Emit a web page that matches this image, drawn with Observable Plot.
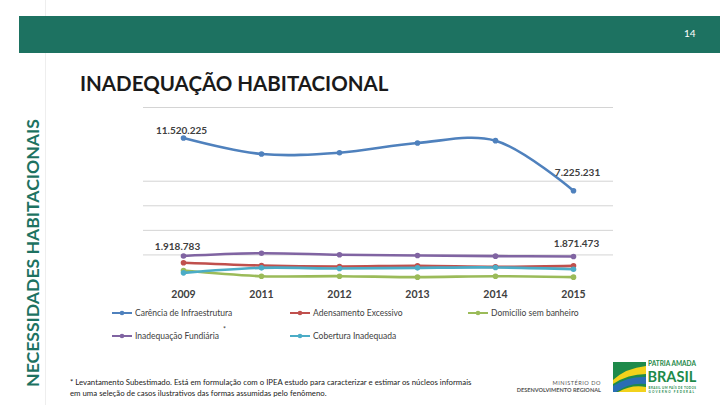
<!DOCTYPE html>
<html>
<head>
<meta charset="utf-8">
<script src="https://cdn.jsdelivr.net/npm/d3@7"></script>
<script src="https://cdn.jsdelivr.net/npm/@observablehq/plot@0.6"></script>
<style>
  html, body { margin:0; padding:0; background:#fff; }
  #page { position:relative; width:720px; height:405px; overflow:hidden; font-family:Lato, "Open Sans", sans-serif; }
  .abs { position:absolute; }
  #band { left:19px; top:16px; width:701px; height:37px; background:#1d7261; }
  #pnum { left:684px; top:27px; font-size:10px; color:#fff; }
  #vline { left:45px; top:0; width:1px; height:405px; background:#eeeeee; }
  #side { left:32px; top:253px; transform:translate(-50%,-50%) rotate(-90deg); white-space:nowrap; font-weight:700; font-size:17.6px; color:#1d7261; }
  #title { left:80px; top:71px; font-size:20.5px; font-weight:700; color:#1a1a1a; white-space:nowrap; }
  #chart { left:100px; top:100px; }
  .leg { position:absolute; display:flex; align-items:center; font-size:8.5px; color:#404040; white-space:nowrap; }
  .leg svg { margin-right:3px; }
  #foot { left:70px; top:377px; font-size:7.8px; line-height:11px; color:#222; white-space:nowrap; }
  #min { left:515px; top:380px; font-size:5.6px; line-height:6.5px; color:#555; text-align:right; width:86px; }
</style>
</head>
<body>
<div id="page">
  <div id="vline" class="abs"></div>
  <div id="band" class="abs"></div>
  <div id="pnum" class="abs">14</div>
  <div id="side" class="abs">NECESSIDADES HABITACIONAIS</div>
  <div id="title" class="abs">INADEQUAÇÃO HABITACIONAL</div>
  <div id="chart" class="abs"></div>
  <div id="legend"></div>
  <div id="foot" class="abs">* Levantamento Subestimado. Está em formulação com o IPEA estudo para caracterizar e estimar os núcleos informais<br>em uma seleção de casos ilustrativos das formas assumidas pelo fenômeno.</div>
  <div id="min" class="abs"><span style="letter-spacing:0.5px">MINISTÉRIO DO</span><br><b>DESENVOLVIMENTO REGIONAL</b></div>
  <svg class="abs" style="left:612px;top:360px" width="100" height="34" viewBox="0 0 100 34">
    <rect x="1" y="2" width="33" height="30" fill="#1e8a4a"/>
    <path d="M1 20 Q14 8 34 6 L34 14 Q16 14 1 24 Z" fill="#f2d21c"/>
    <path d="M1 26 Q16 16 34 17 L34 24 Q18 22 4 32 L1 32 Z" fill="#2a6db5"/>
    <path d="M6 32 Q20 24 34 27 L34 32 Z" fill="#f2d21c"/>
    <text x="36" y="6.3" font-family="Lato" font-weight="700" font-size="6.5" fill="#1e8a4a">PÁTRIA AMADA</text>
    <text x="35.5" y="22" font-family="Lato" font-weight="700" font-size="14.5" fill="#1e8a4a">BRASIL</text>
    <text x="36.5" y="28.6" font-family="Lato" font-weight="700" font-size="3" fill="#1e8a4a" letter-spacing="0.4">BRASIL UM PAÍS DE TODOS</text>
    <text x="36.5" y="32.8" font-family="Lato" font-weight="700" font-size="3" fill="#1e8a4a" letter-spacing="1.2">GOVERNO FEDERAL</text>
  </svg>
</div>
<script>
const years = ["2009", "2011", "2012", "2013", "2014", "2015"];
const seriesNames = ["Carência de Infraestrutura", "Adensamento Excessivo", "Domicílio sem banheiro", "Inadequação Fundiária", "Cobertura Inadequada"];
const carencia    = [11520225, 10220000, 10320000, 11110000, 11300000, 7225231];
const adensamento = [1360000, 1140000, 1060000, 1110000, 1030000, 1110000];
const semBanheiro = [730000, 270000, 270000, 190000, 270000, 190000];
const fundiaria   = [1918783, 2140000, 2010000, 1950000, 1900000, 1871473];
const cobertura   = [540000, 950000, 890000, 950000, 980000, 840000];
const seriesColors = ["#4f81bd", "#c0504d", "#9bbb59", "#8064a2", "#4bacc6"];
const gridValues = [2000000, 4000000, 6000000, 8000000, 14000000];

const allSeries = [carencia, adensamento, semBanheiro, fundiaria, cobertura];
const data = allSeries.flatMap((vals, i) => vals.map((v, j) => ({series: seriesNames[i], year: years[j], value: v})));

const fmt = v => d3.format(",")(v).replace(/,/g, ".");
const pick = (s, y) => data.filter(d => d.series === s && d.year === y);

const textStyle = {x: "year", y: "value", text: d => fmt(d.value), fill: "#404040", fontWeight: "bold", fontSize: 10};

const chart = Plot.plot({
  width: 520, height: 209,
  marginLeft: 43, marginRight: 7, marginTop: 7, marginBottom: 30,
  style: {fontFamily: "Lato, 'Open Sans', sans-serif", background: "transparent", color: "#404040"},
  x: {type: "point", domain: years, padding: 0.5, label: null},
  y: {domain: [0, 14000000], axis: null},
  color: {domain: seriesNames, range: seriesColors},
  marks: [
    Plot.ruleY(gridValues, {stroke: "#d4d4d4", strokeWidth: 1}),
    Plot.line(data, {x: "year", y: "value", stroke: "series", z: "series", curve: "catmull-rom", strokeWidth: 2.6}),
    Plot.dot(data, {x: "year", y: "value", fill: "series", r: 2.8}),
    Plot.text(pick(seriesNames[0], "2009"), {...textStyle, dx: -2, dy: -7}),
    Plot.text(pick(seriesNames[0], "2015"), {...textStyle, dx: 4, dy: -18}),
    Plot.text(pick(seriesNames[3], "2009"), {...textStyle, dx: -6, dy: -9}),
    Plot.text(pick(seriesNames[3], "2015"), {...textStyle, dx: 3, dy: -13}),
    Plot.axisX({tickSize: 0, tickPadding: 11, fontWeight: "bold", fontSize: 10.5, label: null, fill: "#404040"})
  ]
});
document.getElementById("chart").appendChild(chart);

// Legend
const legendPos = [[112, 313], [290, 313], [468, 313], [112, 336], [290, 336]];
const legend = document.getElementById("legend");
seriesNames.forEach((name, i) => {
  const el = document.createElement("div");
  el.className = "leg";
  el.style.left = legendPos[i][0] + "px";
  el.style.top = (legendPos[i][1] - 6) + "px";
  el.style.height = "12px";
  const c = seriesColors[i];
  el.innerHTML = `<svg width="20" height="6"><line x1="0" y1="3" x2="20" y2="3" stroke="${c}" stroke-width="2"/><circle cx="10" cy="3" r="2.3" fill="${c}"/></svg><span>${name}</span>` +
    (i === 3 ? `<span style="font-size:7px;position:relative;top:-7px;left:4px">*</span>` : "");
  legend.appendChild(el);
});
</script>
</body>
</html>
